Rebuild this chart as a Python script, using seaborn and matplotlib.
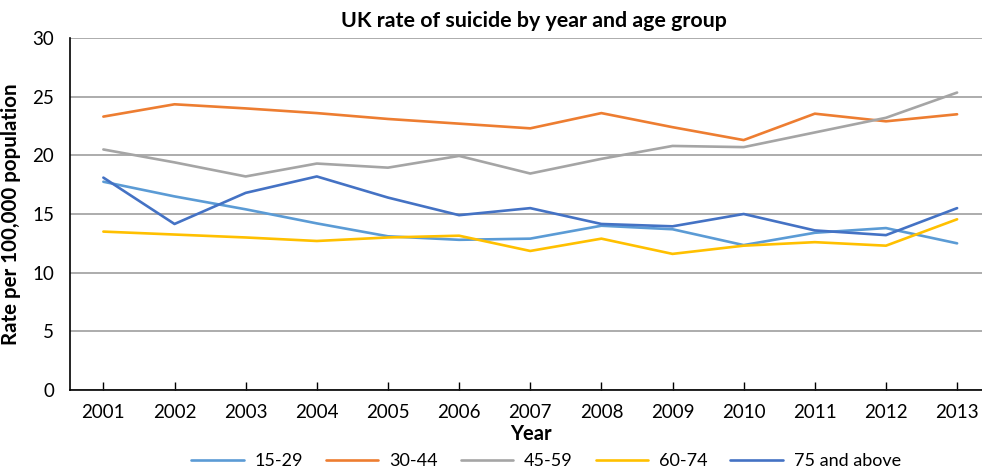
import matplotlib
matplotlib.use("Agg")
import matplotlib.pyplot as plt
import seaborn as sns
import pandas as pd

years = [2001, 2002, 2003, 2004, 2005, 2006, 2007, 2008, 2009, 2010, 2011, 2012, 2013]
age_15_29 = [17.75, 16.5, 15.4, 14.2, 13.1, 12.8, 12.9, 14.0, 13.7, 12.35, 13.4, 13.8, 12.5]
age_30_44 = [23.3, 24.35, 24.0, 23.6, 23.1, 22.7, 22.3, 23.6, 22.4, 21.3, 23.55, 22.9, 23.5]
age_45_59 = [20.5, 19.4, 18.2, 19.3, 18.95, 19.95, 18.45, 19.7, 20.8, 20.7, 21.95, 23.2, 25.35]
age_60_74 = [13.5, 13.25, 13.0, 12.7, 13.0, 13.15, 11.85, 12.9, 11.6, 12.3, 12.6, 12.3, 14.55]
age_75_plus = [18.1, 14.15, 16.8, 18.2, 16.4, 14.9, 15.5, 14.15, 13.95, 15.0, 13.6, 13.2, 15.5]

groups = ["15-29", "30-44", "45-59", "60-74", "75 and above"]
series = [age_15_29, age_30_44, age_45_59, age_60_74, age_75_plus]
colors = ["#5B9BD5", "#ED7D31", "#A5A5A5", "#FFC000", "#4472C4"]

rows = []
for g, vals in zip(groups, series):
    for i, (y, v) in enumerate(zip(years, vals)):
        rows.append({"pos": i, "Year": str(y), "Group": g, "Rate": v})
df = pd.DataFrame(rows)

sns.set_theme(style="white")
plt.rcParams["font.family"] = ["Lato", "DejaVu Sans"]
plt.rcParams["text.color"] = "black"
plt.rcParams["axes.labelcolor"] = "black"
plt.rcParams["xtick.color"] = "black"
plt.rcParams["ytick.color"] = "black"

W, H = 982, 471
fig = plt.figure(figsize=(W / 100, H / 100), dpi=100)
ax = fig.add_axes([70 / W, 1 - 390 / H, 1 - 70 / W, (390 - 38) / H])

sns.lineplot(data=df, x="pos", y="Rate", hue="Group", hue_order=groups,
             palette=colors, linewidth=1.9, ax=ax, legend=True)

ax.set_ylim(0, 30)
ax.set_yticks([0, 5, 10, 15, 20, 25, 30])
ax.set_xlim(-0.469, 12.35)
ax.set_xticks(range(len(years)))
ax.set_xticklabels([str(y) for y in years])
ax.yaxis.grid(True, color="#A6A6A6", linewidth=1.3)
ax.set_axisbelow(True)

for s in ["top", "right"]:
    ax.spines[s].set_visible(False)
for s in ["left", "bottom"]:
    ax.spines[s].set_color("black")
    ax.spines[s].set_linewidth(1.2)

ax.tick_params(axis="x", which="both", bottom=True, direction="in", length=6,
               width=1, color="black", labelsize=13.5, pad=10)
ax.tick_params(axis="y", left=False, labelsize=13.5, pad=5.5)

ax.set_xlabel("Year", fontsize=14.5, fontweight="bold", va="center")
ax.xaxis.set_label_coords((531 - 70) / (W - 70), -(434 - 390) / (390 - 38))
ax.set_ylabel("Rate per 100,000 population", fontsize=14.8, fontweight="bold")
ax.yaxis.set_label_coords(-(70 - 21) / (W - 70), 0.5)
fig.text(534 / W, 1 - 21 / H, "UK rate of suicide by year and age group",
         fontsize=15.4, fontweight="bold", ha="center", va="center")

handles, labels = ax.get_legend_handles_labels()
ax.legend(handles, labels, loc="center", bbox_to_anchor=(546 / W, 1 - 461 / H),
          bbox_transform=fig.transFigure, ncol=5, frameon=False, fontsize=13,
          handlelength=2.9, columnspacing=1.27, handletextpad=0.6,
          borderpad=0, borderaxespad=0)

fig.savefig("out.png", dpi=100)
